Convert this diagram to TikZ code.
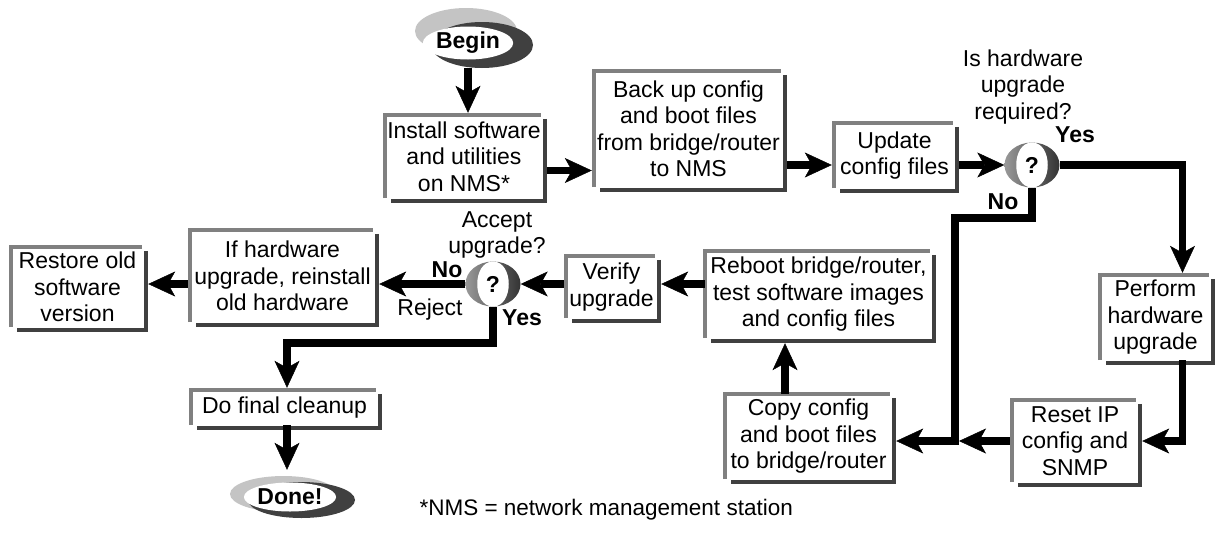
\documentclass[tikz,border=0pt]{standalone}
\usepackage{fontspec}
\setmainfont{Liberation Sans}
\usetikzlibrary{arrows.meta,shapes.geometric}

\definecolor{edgelite}{HTML}{808080}
\definecolor{edgedark}{HTML}{404040}
\definecolor{ovallite}{HTML}{C4C4C4}
\newcommand{\bodyfont}{\fontsize{23}{26.5}\selectfont}

\tikzset{
  procbox/.style={align=center, inner sep=0pt},
  term/.style={ellipse, inner sep=0pt},
  decide/.style={ellipse, minimum width=55pt, minimum height=45pt, inner sep=0pt,
    left color=black!40, right color=black!80, font=\bodyfont\bfseries,
    path picture={\fill[white] (path picture bounding box.north)
      .. controls ([xshift=-21pt]path picture bounding box.north) and ([xshift=-21pt]path picture bounding box.south) .. (path picture bounding box.south)
      .. controls ([xshift=21pt]path picture bounding box.south) and ([xshift=21pt]path picture bounding box.north) .. (path picture bounding box.north);}},
  flow/.style={line width=7.5pt, -{Stealth[length=27pt,width=25pt,inset=7pt,line width=0.5pt]}},
  liteedge/.style={draw=edgelite, line width=4pt},
  darkedge/.style={draw=edgedark, line width=4pt},
  tag/.style={font=\bodyfont\bfseries}
}

\begin{document}
\begin{tikzpicture}[x=1pt,y=-1pt,every node/.style={font=\bodyfont}]
\useasboundingbox (0,0) rectangle (1215,536);

% start and end ovals
\node[term, fill=ovallite, minimum width=102pt, minimum height=46pt] (beginL) at (466,31) {};
\node[term, fill=edgedark, minimum width=102pt, minimum height=46pt] (beginD) at (482,45) {};
\node[term, fill=white, minimum width=74pt, minimum height=33pt, font=\bodyfont\bfseries] (begin) at (468,43) {Begin};

\node[term, fill=ovallite, minimum width=107pt, minimum height=36pt] (doneL) at (283.5,494) {};
\node[term, fill=edgedark, minimum width=107pt, minimum height=36pt] (doneD) at (301.5,500) {};
\node[term, fill=white, minimum width=84pt, minimum height=29pt, font=\bodyfont\bfseries] (done) at (290,497) {Done!};

% process boxes
\node[procbox, minimum width=158pt, minimum height=83pt] (install) at (464,156.5) {Install software\\and utilities\\on NMS*};
\node[procbox, minimum width=189pt, minimum height=116pt] (backup) at (688.5,129) {Back up config\\and boot files\\from bridge/router\\to NMS};
\node[procbox, minimum width=121pt, minimum height=65pt] (update) at (894.5,155.5) {Update\\config files};
\node[procbox, minimum width=111pt, minimum height=85pt] (perform) at (1155.5,317.5) {Perform\\hardware\\upgrade};
\node[procbox, minimum width=126pt, minimum height=82pt] (reset) at (1075,441) {Reset IP\\config and\\SNMP};
\node[procbox, minimum width=167pt, minimum height=85pt] (copy) at (808.5,436.5) {Copy config\\and boot files\\to bridge/router};
\node[procbox, minimum width=227pt, minimum height=87pt] (reboot) at (818.5,294.5) {Reboot bridge/router,\\test software images\\and config files};
\node[procbox, minimum width=91pt, minimum height=62pt] (verify) at (611.5,287) {Verify\\upgrade};
\node[procbox, minimum width=185pt, minimum height=92pt] (ifhw) at (282.5,276) {If hardware\\upgrade, reinstall\\old hardware};
\node[procbox, minimum width=133pt, minimum height=80pt] (restore) at (77.5,287) {Restore old\\software\\version};
\node[procbox, minimum width=187pt, minimum height=35pt] (cleanup) at (284.5,407.5) {Do final cleanup};

\foreach \n in {install,backup,update,perform,reset,copy,reboot,verify,ifhw,restore,cleanup}{
  \draw[liteedge] (\n.south west) -- (\n.north west) -- ([xshift=-2pt]\n.north east);
  \draw[darkedge] ([shift={(2,4)}]\n.north east) -- ([shift={(2,3)}]\n.south east) -- ([shift={(6,3)}]\n.south west);
}

% decisions
\node[decide] (d1) at (1032,165) {?};
\node[decide] (d2) at (493,284) {?};
\node[align=center] (q1) at (1023,87) {Is hardware\\upgrade\\required?};
\node[align=center] (q2) at (497,235) {Accept\\upgrade?};
\node[tag] (yes1) at (1075,135) {Yes};
\node[tag] (no1) at (1003,202) {No};
\node[tag] (no2) at (447,270) {No};
\node (reject) at (430,310) {Reject};
\node[tag] (yes2) at (522,318) {Yes};

\node[anchor=west, font=\fontsize{22.5}{26}\selectfont] (note) at (416,510) {*NMS = network management station};

\coordinate (merge) at (959,441);
\coordinate (nobend) at (955,218);
\coordinate (yesbend) at (287,343);

% connectors
\draw[flow] (begin |- beginD.south) -- ([yshift=2pt]begin |- install.north);
\draw[flow] ([shift={(4,14)}]install.east) -- ([shift={(-2,14)}]install.east -| backup.west);
\draw[flow] ([xshift=4pt]backup.east |- d1) -- ([xshift=-2pt]update.west |- d1);
\draw[flow] ([xshift=4pt]update.east |- d1) -- (d1.west);
\draw[flow] (d1.east) -| ([shift={(27,-2)}]perform.north);
\draw[flow] ([xshift=27pt]perform.south) |- ([xshift=4pt]reset.east);
\draw[flow] ([xshift=-2pt]reset.west) -- (merge);
\draw[flow] (d1.south) |- (nobend) |- ([xshift=4pt]copy.east |- reset.east);
\draw[flow] ([xshift=-23.5pt]copy.north) -- ([shift={(-23.5,5)}]copy.north |- reboot.south);
\draw[flow] (reboot.west |- d2) -- ([xshift=4pt]verify.east |- d2);
\draw[flow] ([xshift=-2pt]verify.west |- d2) -- (d2.east);
\draw[flow] (d2.west) -- ([xshift=4pt]ifhw.east |- d2);
\draw[flow] ([xshift=-2pt]ifhw.west |- d2) -- ([xshift=4pt]restore.east |- d2);
\draw[flow] (d2.south) |- (yesbend) -- ([yshift=2pt]yesbend |- cleanup.north);
\draw[flow] (yesbend |- cleanup.south) -- ([yshift=6pt]yesbend |- doneL.north);

\end{tikzpicture}
\end{document}
